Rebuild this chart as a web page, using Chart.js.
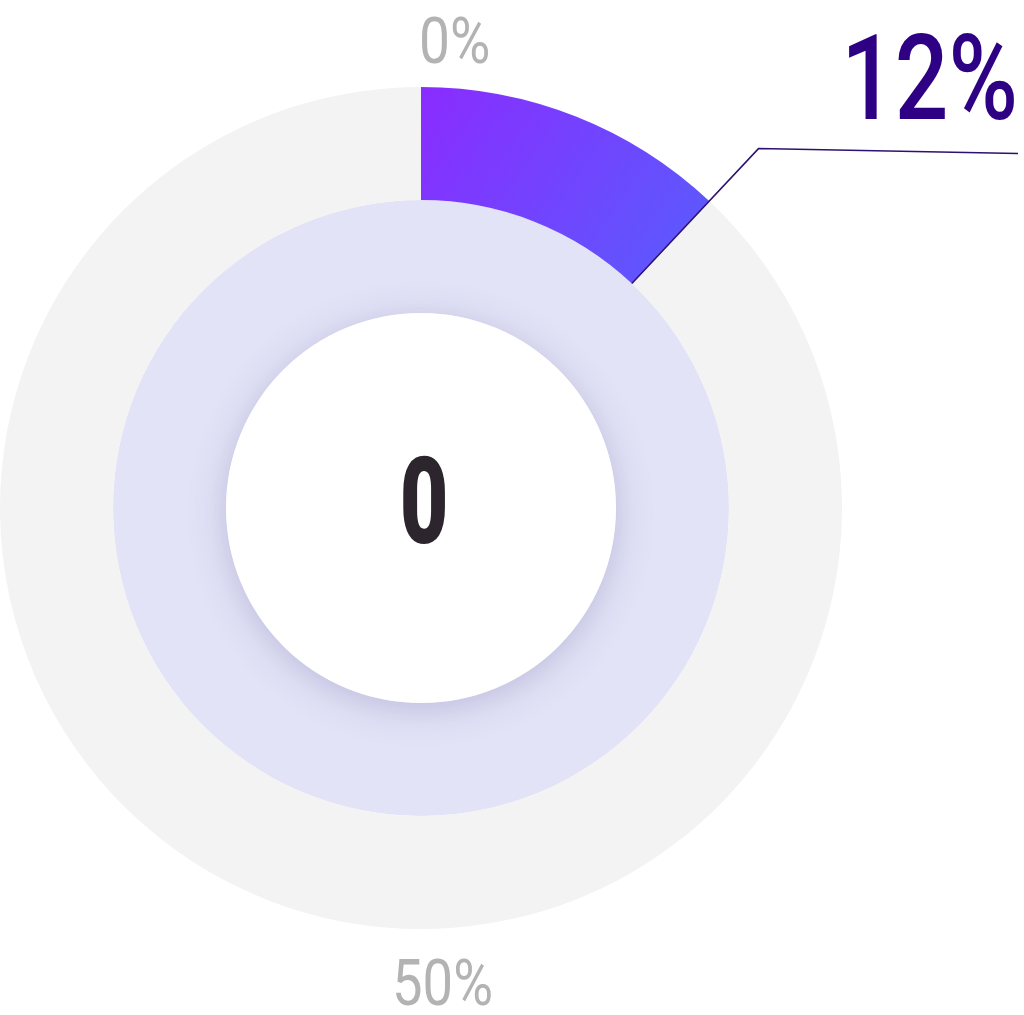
<!DOCTYPE html>
<html>
<head>
<meta charset="utf-8">
<script src="https://cdn.jsdelivr.net/npm/chart.js@4/dist/chart.umd.min.js"></script>
<style>
  html, body { margin: 0; padding: 0; background: #fff; }
  #wrap { width: 1024px; height: 1015px; position: relative; }
</style>
</head>
<body>
<div id="wrap"><canvas id="gauge"></canvas></div>
<script>
// values
const segmentLabels = ['Filled', 'Remaining'];
const outerValues = [12, 88];
const innerValues = [100];
const tickLabels = ['0%', '50%'];
const valueLabel = '12%';
const centerLabel = '0';

function purpleGradient(chart) {
    const area = chart.chartArea;
    if (!area) return '#7a3cff';
    const cx = (area.left + area.right) / 2;
    const r = (area.right - area.left) / 2;
    const g = chart.ctx.createLinearGradient(cx, area.top, cx + r * 0.68, area.top + r * 0.47);
    g.addColorStop(0, '#8a2cff');
    g.addColorStop(1, '#585dfd');
    return g;
}

function drawText(ctx, text, x, y, font, color, sx, align) {
    ctx.save();
    ctx.font = font;
    ctx.fillStyle = color;
    ctx.textBaseline = 'alphabetic';
    ctx.textAlign = align;
    ctx.translate(x, y);
    ctx.scale(sx, 1);
    ctx.fillText(text, 0, 0);
    ctx.restore();
}

const overlay = {
    id: 'overlay',
    afterDatasetsDraw(chart) {
        const ctx = chart.ctx;
        const arc = chart.getDatasetMeta(0).data[0];
        const inner = chart.getDatasetMeta(1).data[0];
        const cx = arc.x, cy = arc.y;

        // white centre disc with soft shadow
        ctx.save();
        ctx.shadowColor = 'rgba(70, 70, 140, 0.25)';
        ctx.shadowBlur = 36;
        ctx.shadowOffsetY = 6;
        ctx.fillStyle = '#fff';
        ctx.beginPath();
        ctx.arc(cx, cy, inner.innerRadius, 0, Math.PI * 2);
        ctx.fill();
        ctx.restore();

        drawText(ctx, centerLabel, cx + 3, cy + 35, '900 120px Roboto', '#2d252d', 0.7, 'center');

        // leader line from the end of the filled arc
        const ang = arc.endAngle;
        const x1 = cx + Math.cos(ang) * arc.innerRadius;
        const y1 = cy + Math.sin(ang) * arc.innerRadius;
        const x2 = cx + Math.cos(ang) * (arc.outerRadius + 72);
        const y2 = cy + Math.sin(ang) * (arc.outerRadius + 72);
        ctx.save();
        ctx.strokeStyle = '#2e1070';
        ctx.lineWidth = 1.5;
        ctx.beginPath();
        ctx.moveTo(x1, y1);
        ctx.lineTo(x2, y2);
        ctx.lineTo(chart.width - 6, y2 + 5);
        ctx.stroke();
        ctx.restore();

        drawText(ctx, valueLabel, chart.width - 6, y2 - 30, '500 118px Roboto', '#2e0084', 0.8, 'right');

        // scale labels at top and bottom
        drawText(ctx, tickLabels[0], cx - 2, cy - arc.outerRadius - 24, '64px Roboto', '#b3b3b3', 0.86, 'left');
        drawText(ctx, tickLabels[1], cx - 29, cy + arc.outerRadius + 76, '64px Roboto', '#b3b3b3', 0.85, 'left');
    }
};

new Chart(document.getElementById('gauge'), {
    type: 'doughnut',
    data: {
        labels: segmentLabels,
        datasets: [{
            data: outerValues,
            backgroundColor: (c) => c.dataIndex === 0 ? purpleGradient(c.chart) : '#f3f3f3',
            borderWidth: 0
        }, {
            data: innerValues,
            backgroundColor: '#e3e3f7',
            borderWidth: 0
        }]
    },
    options: {
        responsive: true,
        maintainAspectRatio: false,
        animation: false,
        events: [],
        cutout: 195,
        layout: {
            padding: { left: 0, right: 182, top: 87, bottom: 86 }
        },
        plugins: {
            legend: { display: false },
            tooltip: { enabled: false }
        }
    },
    plugins: [overlay]
});
</script>
</body>
</html>
